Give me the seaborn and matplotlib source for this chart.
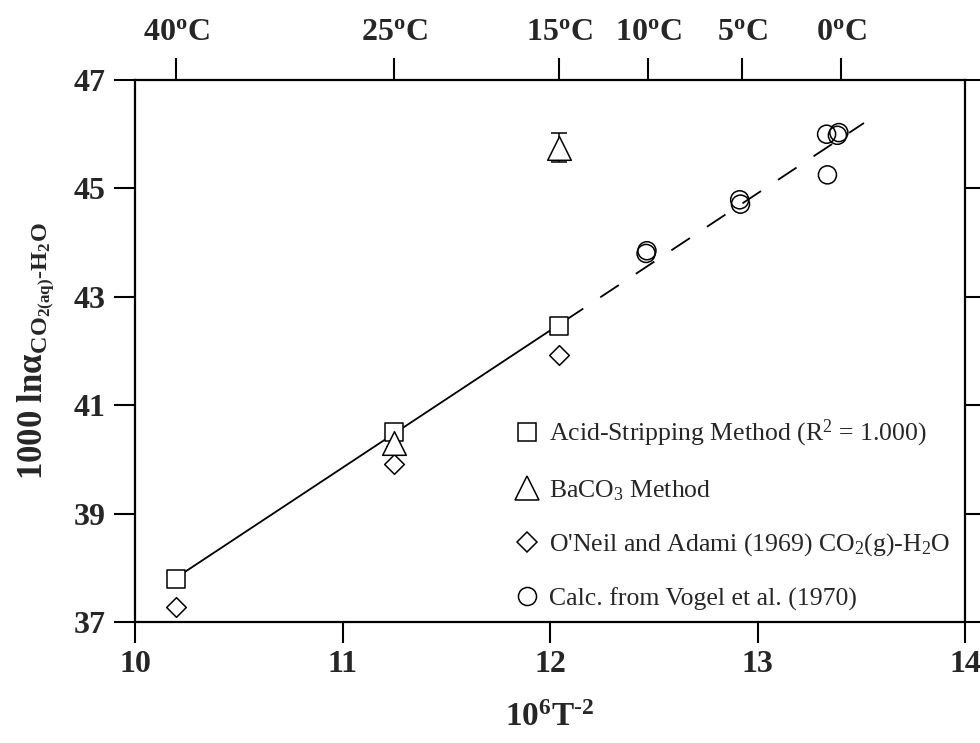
import numpy as np
import pandas as pd
import matplotlib
matplotlib.use("Agg")
import matplotlib.pyplot as plt
import seaborn as sns
from matplotlib.lines import Line2D

# ---------------- data ----------------
temps_c = [40, 25, 15, 10, 5, 0]
temp_labels = ["40", "25", "15", "10", "5", "0"]

acid_x = [10.197, 11.249, 12.044]
acid_y = [37.80, 40.51, 42.47]

baco3_x = [11.249, 12.044]
baco3_y = [40.30, 45.75]
baco3_err = [0.07, 0.27]

oneil_x = [10.197, 11.249, 12.044]
oneil_y = [37.27, 39.92, 41.93]

vogel_x = [12.463, 12.467, 12.914, 12.918, 13.333, 13.385, 13.392, 13.337]
vogel_y = [43.80, 43.85, 44.79, 44.71, 46.00, 45.98, 46.03, 45.25]

fit_end_x = 13.513

x_ticks = [10, 11, 12, 13, 14]
y_ticks = [37, 39, 41, 43, 45, 47]

# ---------------- style ----------------
sns.set_style("ticks")
plt.rcParams["font.family"] = ["Liberation Serif", "DejaVu Serif"]
plt.rcParams["mathtext.fontset"] = "custom"
plt.rcParams["mathtext.rm"] = "Liberation Serif"
plt.rcParams["mathtext.it"] = "Liberation Serif:italic"
plt.rcParams["mathtext.bf"] = "Liberation Serif:bold"

fig = plt.figure(figsize=(9.8, 7.43), dpi=100)
ax = fig.add_axes([0.1378, 0.1629, 0.8469, 0.7294])

# regression line
coef = np.polyfit(acid_x, acid_y, 1)
xs_solid = np.array([acid_x[0], acid_x[-1]])
xs_dash = np.array([acid_x[-1], fit_end_x])
sns.lineplot(x=xs_solid, y=np.polyval(coef, xs_solid), ax=ax, color="black",
             lw=1.3, zorder=2)
sns.lineplot(x=xs_dash, y=np.polyval(coef, xs_dash), ax=ax, color="black",
             lw=1.3, linestyle=(19.9, (12.3, 11.3)), zorder=2)

# error bars for BaCO3
ax.errorbar(baco3_x, baco3_y, yerr=baco3_err, fmt="none", ecolor="black",
            elinewidth=1.1, capsize=5.5, capthick=1.1, zorder=3)

mew = 1.1
sns.scatterplot(x=oneil_x, y=oneil_y, ax=ax, marker="D", s=100,
                facecolor="white", edgecolor="black", linewidth=mew, zorder=4)
sns.scatterplot(x=acid_x, y=acid_y, ax=ax, marker="s", s=169,
                facecolor="white", edgecolor="black", linewidth=mew, zorder=4)
sns.scatterplot(x=baco3_x, y=baco3_y, ax=ax, marker="^", s=17**2,
                facecolor="white", edgecolor="black", linewidth=mew, zorder=5)
sns.scatterplot(x=vogel_x, y=vogel_y, ax=ax, marker="o", s=169,
                facecolor="none", edgecolor="black", linewidth=mew, zorder=4)

ax.set_xlim(10, 14)
ax.set_ylim(37, 47)
ax.set_xticks(x_ticks)
ax.set_yticks(y_ticks)
ax.set_xticklabels([str(v) for v in x_ticks], fontsize=23, fontweight="bold")
ax.set_yticklabels([str(v) for v in y_ticks], fontsize=23, fontweight="bold")
ax.tick_params(axis="both", direction="out", length=15, width=1.5, pad=6,
               right=True, labelright=False, top=False, color="black")
ax.tick_params(axis="x", pad=5)
for sp in ax.spines.values():
    sp.set_visible(True)
    sp.set_linewidth(1.6)
    sp.set_color("black")

ax.set_xlabel(r"$\mathbf{10^6T^{\text{-}2}}$", fontsize=24, labelpad=17)
ax.set_ylabel(r"$\mathbf{1000\ ln}\mathbf{\alpha}_{\mathbf{CO_{2(aq)}\text{-}H_2O}}$",
              fontsize=25, labelpad=12)

# top temperature axis
top = ax.twiny()
top.set_xlim(ax.get_xlim())
top_pos = [1e6 / (t + 273.15) ** 2 for t in temps_c]
top.set_xticks(top_pos)
top.set_xticklabels([r"$\mathbf{%s^{o}C}$" % l for l in temp_labels], fontsize=23)
top.tick_params(axis="x", direction="out", length=16, width=1.5, pad=8,
                bottom=False, color="black")
for sp in top.spines.values():
    sp.set_visible(False)

# legend
handles = [
    Line2D([], [], marker="s", ms=13, mfc="white", mec="black", mew=mew, ls="none"),
    Line2D([], [], marker="^", ms=17, mfc="white", mec="black", mew=mew, ls="none"),
    Line2D([], [], marker="D", ms=10, mfc="white", mec="black", mew=mew, ls="none"),
    Line2D([], [], marker="o", ms=13, mfc="white", mec="black", mew=mew, ls="none"),
]
labels = [
    r"Acid-Stripping Method (R$^2$ = 1.000)",
    r"BaCO$_3$ Method",
    r"O'Neil and Adami (1969) CO$_2$(g)-H$_2$O",
    r"Calc. from Vogel et al. (1970)",
]
leg = ax.legend(handles, labels, loc="upper left",
                bbox_to_anchor=(517 / 980, 1 - 418 / 743),
                bbox_transform=fig.transFigure, frameon=False, fontsize=18.5,
                handlelength=0.8, handletextpad=0.45, labelspacing=1.12,
                borderpad=0, borderaxespad=0)

fig.savefig("out.png", dpi=100)
